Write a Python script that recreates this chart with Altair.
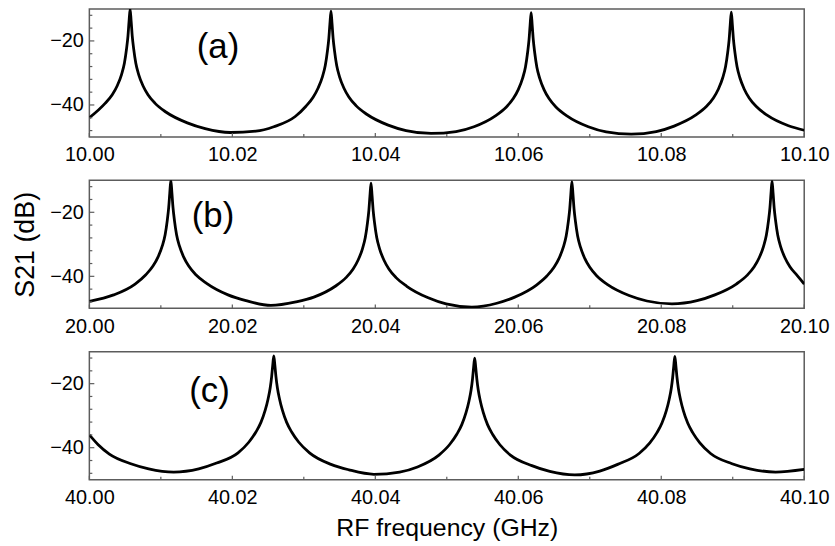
import altair as alt
import pandas as pd

# ---------------- data ----------------
freq_a = [10.0000, 10.0022, 10.0032, 10.0039, 10.0045, 10.0049, 10.0052, 10.0054, 10.00555, 10.0057,
          10.00585, 10.0060, 10.0062, 10.0065, 10.0069, 10.0075, 10.0082, 10.0092, 10.0107, 10.0137, 10.0162, 10.0197,
          10.0233, 10.0258, 10.0288, 10.0303, 10.0313, 10.0320, 10.0326, 10.0330, 10.0333, 10.0335, 10.03365, 10.0338,
          10.03395, 10.0341, 10.0343, 10.0346, 10.0350, 10.0356, 10.0363, 10.0373, 10.0388, 10.0418, 10.0443, 10.0478,
          10.0513, 10.0538, 10.0568, 10.0583, 10.0593, 10.0600, 10.0606, 10.0610, 10.0613, 10.0615, 10.06165, 10.0618,
          10.06195, 10.0621, 10.0623, 10.0626, 10.0630, 10.0636, 10.0643, 10.0653, 10.0668, 10.0698, 10.0723, 10.0758,
          10.0793, 10.0818, 10.0848, 10.0863, 10.0873, 10.0880, 10.0886, 10.0890, 10.0893, 10.0895, 10.08965, 10.0898,
          10.08995, 10.0901, 10.0903, 10.0906, 10.0910, 10.0916, 10.0923, 10.0933, 10.0948, 10.0978, 10.1000]
s21_a = [-44.0, -39.5, -36.8, -34.0, -30.5, -27.0, -22.5, -18.5, -14.0, -10.0,
         -14.0, -18.5, -22.5, -27.0, -30.5, -34.0, -36.8, -39.5, -42.2, -45.6, -47.4, -48.6,
         -48.2, -46.8, -43.6, -40.4, -37.6, -34.7, -31.2, -27.7, -23.2, -19.2, -14.7, -10.7,
         -14.7, -19.2, -23.2, -27.7, -31.2, -34.7, -37.5, -40.2, -42.9, -46.3, -48.0, -48.9,
         -48.3, -46.8, -43.4, -40.7, -38.0, -35.2, -31.7, -28.2, -23.7, -19.7, -15.2, -11.2,
         -15.2, -19.7, -23.7, -28.2, -31.7, -35.2, -38.0, -40.7, -43.4, -46.8, -48.4, -49.1,
         -48.3, -46.6, -43.2, -40.5, -37.8, -35.0, -31.5, -28.0, -23.5, -19.5, -15.0, -11.0,
         -15.0, -19.5, -23.5, -28.0, -31.5, -35.0, -37.8, -40.5, -43.2, -46.5, -47.9]

freq_b = [20.0000, 20.0034, 20.0064, 20.0079, 20.0089, 20.0096, 20.0102, 20.0106, 20.0109, 20.0111, 20.01125, 20.0114,
          20.01155, 20.0117, 20.0119, 20.0122, 20.0126, 20.0132, 20.0139, 20.0149, 20.0164, 20.0194, 20.0219, 20.0254,
          20.0289, 20.0314, 20.0344, 20.0359, 20.0369, 20.0376, 20.0382, 20.0386, 20.0389, 20.0391, 20.03925, 20.0394,
          20.03955, 20.0397, 20.0399, 20.0402, 20.0406, 20.0412, 20.0419, 20.0429, 20.0444, 20.0474, 20.0499, 20.0535,
          20.0570, 20.0595, 20.0625, 20.0640, 20.0650, 20.0657, 20.0663, 20.0667, 20.0670, 20.0672, 20.06735, 20.0675,
          20.06765, 20.0678, 20.0680, 20.0683, 20.0687, 20.0693, 20.0700, 20.0710, 20.0725, 20.0755, 20.0780, 20.0815,
          20.0850, 20.0875, 20.0905, 20.0920, 20.0930, 20.0937, 20.0943, 20.0947, 20.0950, 20.0952, 20.09535, 20.0955,
          20.09565, 20.0958, 20.0960, 20.0963, 20.0967, 20.0973, 20.0980, 20.0990, 20.1000]
s21_b = [-47.8, -45.8, -42.4, -39.5, -36.8, -34.0, -30.5, -27.0, -22.5, -18.5, -14.0, -10.0,
         -14.0, -18.5, -22.5, -27.0, -30.5, -34.0, -36.8, -39.5, -42.2, -45.8, -47.6, -49.1,
         -48.0, -46.5, -43.1, -40.4, -37.7, -34.9, -31.4, -27.9, -23.4, -19.4, -14.9, -10.9,
         -14.9, -19.4, -23.4, -27.9, -31.4, -34.9, -37.7, -40.4, -43.1, -46.7, -48.6, -49.6,
         -48.4, -46.5, -42.8, -39.9, -37.2, -34.4, -30.9, -27.4, -22.9, -18.9, -14.4, -10.4,
         -14.4, -18.9, -22.9, -27.4, -30.9, -34.4, -37.2, -39.9, -42.6, -46.0, -47.7, -48.6,
         -47.6, -45.8, -42.4, -39.7, -37.0, -34.2, -30.7, -27.2, -22.7, -18.7, -14.2, -10.2,
         -14.2, -18.7, -22.7, -27.2, -30.7, -34.2, -37.0, -39.7, -42.4]

freq_c = [40.0000, 40.0012, 40.0028, 40.0058, 40.0083, 40.0118,
          40.0153, 40.0178, 40.0208, 40.0223, 40.0233, 40.0240, 40.0246, 40.0250, 40.0253, 40.0255, 40.02565, 40.0258,
          40.02595, 40.0261, 40.0263, 40.0266, 40.0270, 40.0276, 40.0283, 40.0293, 40.0308, 40.0338, 40.0363, 40.0398,
          40.0434, 40.0459, 40.0489, 40.0504, 40.0514, 40.0521, 40.0527, 40.0531, 40.0534, 40.0536, 40.05375, 40.0539,
          40.05405, 40.0542, 40.0544, 40.0547, 40.0551, 40.0557, 40.0564, 40.0574, 40.0589, 40.0619, 40.0644, 40.0679,
          40.0714, 40.0739, 40.0769, 40.0784, 40.0794, 40.0801, 40.0807, 40.0811, 40.0814, 40.0816, 40.08175, 40.0819,
          40.08205, 40.0822, 40.0824, 40.0827, 40.0831, 40.0837, 40.0844, 40.0854, 40.0869, 40.0899, 40.0924, 40.0960,
          40.1000]
s21_c = [-36.0, -39.0, -42.0, -45.0, -46.6, -47.6,
         -46.6, -44.8, -41.6, -38.3, -35.1, -32.1, -28.3, -24.8, -21.3, -17.8, -14.3, -11.3,
         -14.3, -17.8, -21.3, -24.8, -28.3, -32.1, -35.1, -38.3, -41.6, -45.2, -46.9, -48.3,
         -47.6, -46.0, -42.3, -39.0, -35.8, -32.8, -29.0, -25.5, -22.0, -18.5, -15.0, -12.0,
         -15.0, -18.5, -22.0, -25.5, -29.0, -32.8, -35.8, -39.0, -42.3, -45.6, -47.4, -48.5,
         -47.3, -45.2, -41.8, -38.5, -35.3, -32.3, -28.5, -25.0, -21.5, -18.0, -14.5, -11.5,
         -14.5, -18.0, -21.5, -25.0, -28.5, -32.3, -35.3, -38.5, -41.8, -45.0, -46.6, -47.6,
         -46.8]

x_domains = [[10.00, 10.10], [20.00, 20.10], [40.00, 40.10]]
x_tick_labels = [[10.00, 10.02, 10.04, 10.06, 10.08, 10.10],
                 [20.00, 20.02, 20.04, 20.06, 20.08, 20.10],
                 [40.00, 40.02, 40.04, 40.06, 40.08, 40.10]]
x_minor_ticks = [[10.01, 10.03, 10.05, 10.07, 10.09],
                 [20.01, 20.03, 20.05, 20.07, 20.09],
                 [40.01, 40.03, 40.05, 40.07, 40.09]]
y_major_ticks = [-40, -20]
y_minor_ticks = [-48, -44, -36, -32, -28, -24, -16, -12]
panel_labels = ["(a)", "(b)", "(c)"]
label_x = [10.0180, 20.0173, 40.0168]
label_y = [-21.9, -21.2, -22.4]

W, H = 720, 129
FONT = "Liberation Sans"
FRAME = "#5c5c5c"


def panel(i, freqs, vals, ytitle, xtitle):
    dom = x_domains[i]
    xs = alt.Scale(domain=dom, nice=False, zero=False)
    ys = alt.Scale(domain=[-50, -10], nice=False, zero=False)
    x_axis = alt.Axis(values=x_tick_labels[i], format=".2f", tickSize=0, ticks=False,
                      domain=False, grid=False, labelFontSize=20, labelFont=FONT,
                      labelColor="black", labelPadding=8, labelFlush=False,
                      title=xtitle, titleFont=FONT, titleFontSize=25,
                      titleFontWeight="normal", titleColor="black", titlePadding=8)
    y_axis = alt.Axis(values=[-40, -20], tickSize=0, ticks=False, domain=False, grid=False,
                      labelFontSize=20, labelFont=FONT, labelColor="black", labelPadding=6,
                      title=ytitle, titleFont=FONT, titleFontSize=27,
                      titleFontWeight="normal", titleColor="black", titlePadding=10)
    df = pd.DataFrame({"f": freqs, "s": vals})
    line = alt.Chart(df).mark_line(color="black", strokeWidth=2.8, clip=True,
                                   interpolate="monotone", strokeJoin="round").encode(
        x=alt.X("f:Q", scale=xs, axis=x_axis),
        y=alt.Y("s:Q", scale=ys, axis=y_axis),
    )
    ymaj = alt.Chart(pd.DataFrame({"t": y_major_ticks})).mark_rule(
        color=FRAME, strokeWidth=1.2).encode(
        y=alt.Y("t:Q", scale=ys), x=alt.value(0), x2=alt.value(5))
    ymin = alt.Chart(pd.DataFrame({"t": y_minor_ticks})).mark_rule(
        color=FRAME, strokeWidth=1.2).encode(
        y=alt.Y("t:Q", scale=ys), x=alt.value(0), x2=alt.value(3))
    xmaj = alt.Chart(pd.DataFrame({"t": x_tick_labels[i]})).mark_rule(
        color=FRAME, strokeWidth=1.2).encode(
        x=alt.X("t:Q", scale=xs), y=alt.value(H), y2=alt.value(H - 4))
    xmin = alt.Chart(pd.DataFrame({"t": x_minor_ticks[i]})).mark_rule(
        color=FRAME, strokeWidth=1.2).encode(
        x=alt.X("t:Q", scale=xs), y=alt.value(H), y2=alt.value(H - 3))
    txt = alt.Chart(pd.DataFrame({"x": [label_x[i]], "y": [label_y[i]],
                                  "l": [panel_labels[i]]})).mark_text(
        font=FONT, fontSize=35, color="black", align="center", baseline="middle").encode(
        x=alt.X("x:Q", scale=xs), y=alt.Y("y:Q", scale=ys), text="l:N")
    return alt.layer(line, ymaj, ymin, xmaj, xmin, txt).properties(width=W, height=H)


pa = panel(0, freq_a, s21_a, None, None)
pb = panel(1, freq_b, s21_b, "S21 (dB)", None)
pc = panel(2, freq_c, s21_c, None, "RF frequency (GHz)")

chart = alt.vconcat(pa, pb, pc, spacing=43.6, bounds="flush").properties(
    padding={"left": 11, "top": 6, "right": 5, "bottom": 5}
).configure(background="white").configure_view(stroke=FRAME, strokeWidth=1.5)

chart.save("out.html", embed_options={"renderer": "svg", "actions": False})
